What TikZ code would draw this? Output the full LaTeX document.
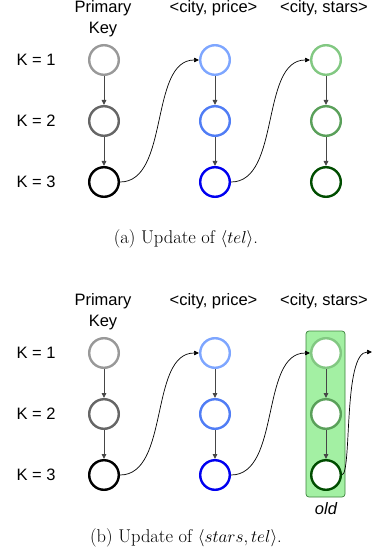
\documentclass[tikz,border=0pt]{standalone}
\usepackage{fontspec}
\newfontfamily\lab{Liberation Sans}
\usetikzlibrary{arrows.meta}
\definecolor{gA}{RGB}{153,153,153}
\definecolor{gB}{RGB}{102,102,102}
\definecolor{gC}{RGB}{0,0,0}
\definecolor{bA}{RGB}{126,166,255}
\definecolor{bB}{RGB}{80,125,245}
\definecolor{bC}{RGB}{0,0,240}
\definecolor{nA}{RGB}{130,200,130}
\definecolor{nB}{RGB}{90,160,90}
\definecolor{nC}{RGB}{0,77,0}
\definecolor{arrgray}{RGB}{70,70,70}
\definecolor{boxfill}{RGB}{163,240,163}
\definecolor{boxdraw}{RGB}{60,130,60}
\newcommand\mypanel[2]{%
\begin{scope}[yshift=-#2pt]
  \node[lbl] (#1hp) at (103,18.5) {Primary\\Key};
  \node[lbl] (#1hb) at (213.5,8) {<city, price>};
  \node[lbl] (#1hs) at (324,8) {<city, stars>};
  \node[lbl] (#1k1) at (36,60) {K = 1};
  \node[lbl] (#1k2) at (36,121) {K = 2};
  \node[lbl] (#1k3) at (36,182) {K = 3};
  \ifnum#2>0
    \node[draw=boxdraw,fill=boxfill,line width=0.7pt,rounded corners=3pt,minimum width=39pt,minimum height=166pt,inner sep=0pt] (#1box) at (325.5,121) {};
    \node[lbl,font=\lab\itshape\fontsize{16.5}{20}\selectfont] (#1old) at (326,216) {old};
  \fi
  \node[ring=gA] (#1g1) at (104,60) {};
  \node[ring=gB] (#1g2) at (104,121) {};
  \node[ring=gC] (#1g3) at (104,182) {};
  \node[ring=bA] (#1b1) at (215,60) {};
  \node[ring=bB] (#1b2) at (215,121) {};
  \node[ring=bC] (#1b3) at (215,182) {};
  \node[ring=nA] (#1n1) at (326,60) {};
  \node[ring=nB] (#1n2) at (326,121) {};
  \node[ring=nC] (#1n3) at (326,182) {};
  \draw[varr] (#1g1) -- (#1g2);
  \draw[varr] (#1g2) -- (#1g3);
  \draw[varr] (#1b1) -- (#1b2);
  \draw[varr] (#1b2) -- (#1b3);
  \draw[varr] (#1n1) -- (#1n2);
  \draw[varr] (#1n2) -- (#1n3);
  \draw[carr] (#1g3.east) .. controls +(50,0) and +(-50,0) .. (#1b1.west);
  \draw[carr] (#1b3.east) .. controls +(50,0) and +(-50,0) .. (#1n1.west);
\end{scope}}
\begin{document}
\begin{tikzpicture}[x=1pt,y=-1pt,
  ring/.style={circle,draw=#1,line width=2.4pt,minimum size=29.6pt,inner sep=0pt,fill=white},
  lbl/.style={font=\lab\fontsize{16.5}{20.5}\selectfont,inner sep=0pt,align=center},
  varr/.style={draw=arrgray,line width=0.9pt,-{Triangle[length=5pt,width=4.5pt]}},
  carr/.style={draw=black,line width=0.7pt,-{Triangle[length=5pt,width=4.5pt]}},
  captxt/.style={font=\fontsize{18.5}{22}\selectfont,inner sep=0pt}]
\useasboundingbox (0,0) rectangle (372,556);
\mypanel{a}{0}
\mypanel{b}{293}
\coordinate (outend) at (372,352);
\draw[carr] (bn3.east) .. controls +(10,-2) and (343,352) .. (outend);
\node[captxt] (capa) at (186,239) {(a) Update of $\langle tel\rangle$.};
\node[captxt] (capb) at (186,538) {(b) Update of $\langle stars, tel\rangle$.};
\end{tikzpicture}
\end{document}
